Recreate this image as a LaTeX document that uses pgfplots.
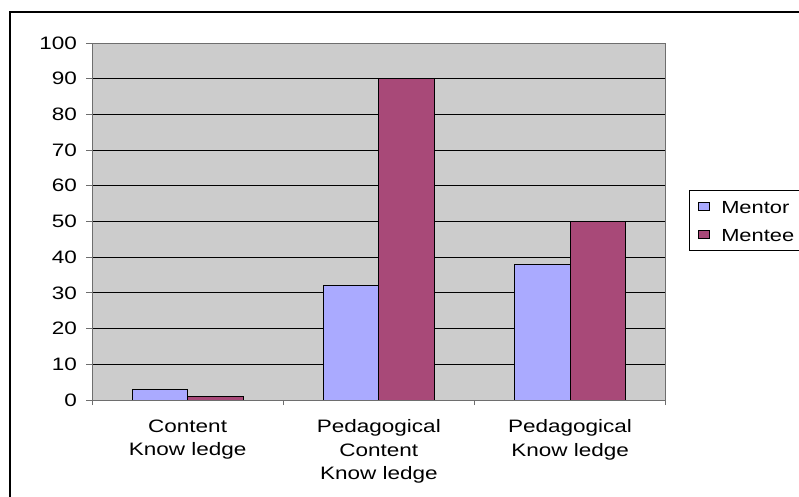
\documentclass[border=0pt]{standalone}
\usepackage{pgfplots}
\pgfplotsset{compat=1.18}
\usepackage{fontspec}
\setmainfont[FakeStretch=1.25]{Liberation Sans}

\definecolor{mentor}{RGB}{170,170,255}
\definecolor{mentee}{RGB}{168,73,120}
\definecolor{plotbg}{RGB}{204,204,204}
\definecolor{axisgray}{RGB}{110,110,110}

\begin{document}
\begin{tikzpicture}[x=1pt,y=1pt]
\useasboundingbox (0,0) rectangle (799,497);
\clip (0,0) rectangle (799,497);
\fill[white] (0,0) rectangle (799,497);
% chart frame
\draw[black, line width=1.3pt] (10,-20) -- (10,485) -- (830,485);
\begin{axis}[
  at={(92pt,97pt)}, anchor=south west,
  scale only axis, width=573.7pt, height=357pt,
  axis background/.style={fill=plotbg},
  xmin=-0.5, xmax=2.5, ymin=0, ymax=100,
  ytick={0,10,...,100},
  xtick={0,1,2},
  xticklabels={{Content\\Know ledge},{Pedagogical\\Content\\Know ledge},{Pedagogical\\Know ledge}},
  minor xtick={-0.5,0.5,1.5,2.5},
  major x tick style={draw=none},
  minor tick length=5pt,
  major tick length=6pt,
  tick align=outside,
  tick pos=left,
  tick style={axisgray, line width=0.9pt},
  ymajorgrids,
  grid style={black, line width=0.9pt},
  axis line style={axisgray, line width=0.9pt},
  /pgf/number format/assume math mode=true,
  tick label style={font=\fontsize{18}{23.5}\selectfont},
  yticklabel style={anchor=east, xshift=-5.5pt},
  xticklabel style={align=center, anchor=north, yshift=-10pt},
  ybar, bar width=55.5pt,
  legend image code/.code={%
    \draw[#1, draw=black, line width=0.8pt] (0pt,-4pt) rectangle (11pt,4pt);
    \path (19pt,0pt);},
  legend style={at={(1.0406,0.588)}, anchor=north west, draw=black, line width=0.9pt,
    fill=white, font=\fontsize{17.5}{20}\selectfont,
    inner xsep=9pt, inner ysep=3pt, row sep=1pt,
    nodes={inner sep=3pt, text height=17pt, text depth=3.5pt}},
  legend cell align=left,
]
\addplot[fill=mentor, draw=black, line width=0.8pt, bar shift=-27.75pt]
  coordinates {(0,3) (1,32) (2,38)};
\addlegendentry{Mentor}
\addplot[fill=mentee, draw=black, line width=0.8pt, bar shift=27.75pt]
  coordinates {(0,1) (1,90) (2,50)};
\addlegendentry{Mentee\hspace*{40pt}}
\end{axis}
\end{tikzpicture}
\end{document}
